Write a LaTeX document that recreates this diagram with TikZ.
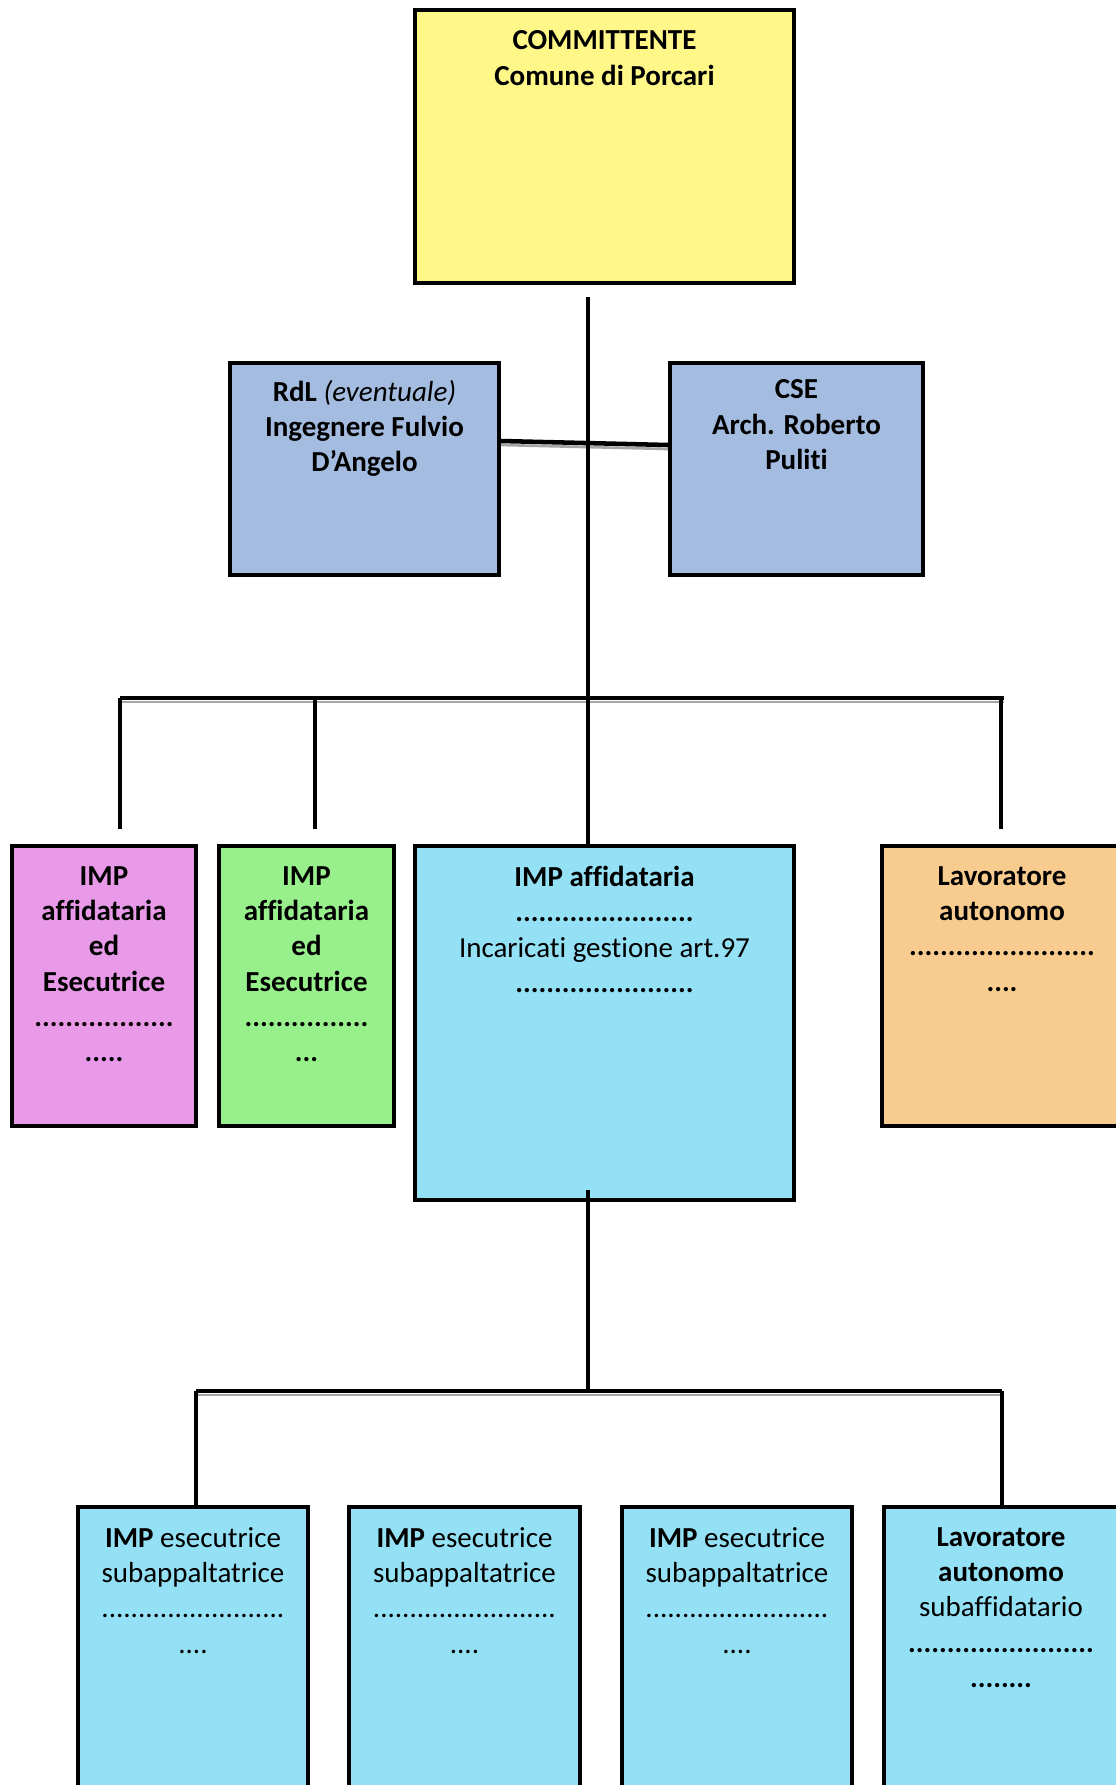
\documentclass[tikz,border=0pt]{standalone}
\usepackage{fontspec}
\setmainfont{Carlito}[Ligatures={NoCommon}]
\usetikzlibrary{calc}
\definecolor{cyel}{RGB}{255,248,136}
\definecolor{cblu}{RGB}{164,188,224}
\definecolor{cpnk}{RGB}{232,154,232}
\definecolor{cgrn}{RGB}{152,240,140}
\definecolor{ccya}{RGB}{148,224,244}
\definecolor{corg}{RGB}{248,203,142}
\newcommand\myfnt{\fontsize{21.75}{26.5}\selectfont}
\tikzset{
  boxnode/.style={draw=black, line width=3pt, rectangle, inner sep=0pt},
  txtnode/.style={align=center, inner sep=0pt, anchor=north, font=\myfnt},
  conn/.style={draw=black, line width=3.4pt},
  shadowline/.style={draw=black!35, line width=2pt},
}
\begin{document}
\begin{tikzpicture}[x=0.75pt,y=-0.75pt]
\useasboundingbox (0,0) rectangle (1116,1785);
\clip (0,0) rectangle (1116,1785);
\fill[white] (0,0) rectangle (1116,1785);

% boxes
\node[boxnode, fill=cyel, minimum width=284.25pt, minimum height=204.75pt] (comm) at (604.5,146.5) {};
\node[boxnode, fill=cblu, minimum width=201.75pt, minimum height=159pt] (rdl) at (364.5,469) {};
\node[boxnode, fill=cblu, minimum width=189.75pt, minimum height=159pt] (cse) at (796.5,469) {};
\node[boxnode, fill=cpnk, minimum width=138pt, minimum height=210pt] (pink) at (104,986) {};
\node[boxnode, fill=cgrn, minimum width=131.25pt, minimum height=210pt] (green) at (306.5,986) {};
\node[boxnode, fill=ccya, minimum width=284.25pt, minimum height=265.5pt] (affid) at (604.5,1023) {};
\node[boxnode, fill=corg, minimum width=180pt, minimum height=210pt] (lav) at (1002,986) {};
\node[boxnode, fill=ccya, minimum width=172.5pt, minimum height=227.25pt] (sub1) at (193,1658.5) {};
\node[boxnode, fill=ccya, minimum width=173.25pt, minimum height=227.25pt] (sub2) at (464.5,1658.5) {};
\node[boxnode, fill=ccya, minimum width=172.5pt, minimum height=227.25pt] (sub3) at (737,1658.5) {};
\node[boxnode, fill=ccya, minimum width=175.5pt, minimum height=227.25pt] (sub4) at (1001,1658.5) {};

% texts
\node[txtnode, font=\myfnt\bfseries] (tcomm) at ([yshift=-17pt]comm.north) {COMMITTENTE\\Comune di Porcari};
\node[txtnode] (trdl) at ([yshift=-14pt]rdl.north) {\textbf{RdL} \textit{(eventuale)}\\\textbf{Ingegnere Fulvio}\\\textbf{D’Angelo}};
\node[txtnode, font=\myfnt\bfseries] (tcse) at ([yshift=-14pt]cse.north) {CSE\\Arch. Roberto\\Puliti};
\node[txtnode, font=\myfnt\bfseries] (tpink) at ([yshift=-16.5pt]pink.north) {IMP\\affidataria\\ed\\Esecutrice\\..................\\.....};
\node[txtnode, font=\myfnt\bfseries] (tgreen) at ([yshift=-16.5pt]green.north) {IMP\\affidataria\\ed\\Esecutrice\\................\\...};
\node[txtnode] (taffid) at ([yshift=-16.5pt]affid.north) {\textbf{IMP affidataria}\\\textbf{.......................}\\Incaricati gestione art.97\\\textbf{.......................}};
\node[txtnode, font=\myfnt\bfseries] (tlav) at ([yshift=-16.5pt]lav.north) {Lavoratore\\autonomo\\........................\\....};
\node[txtnode] (tsub1) at ([yshift=-16.5pt]sub1.north) {\textbf{IMP} esecutrice\\subappaltatrice\\.........................\\....};
\node[txtnode] (tsub2) at ([yshift=-16.5pt]sub2.north) {\textbf{IMP} esecutrice\\subappaltatrice\\.........................\\....};
\node[txtnode] (tsub3) at ([yshift=-16.5pt]sub3.north) {\textbf{IMP} esecutrice\\subappaltatrice\\.........................\\....};
\node[txtnode] (tsub4) at ([yshift=-16.5pt]sub4.north) {\textbf{Lavoratore}\\\textbf{autonomo}\\subaffidatario\\\textbf{........................}\\\textbf{........}};

% connector points
\coordinate (top1) at (588,297);
\coordinate (j1) at (588,698);
\coordinate (barL) at (120,698);
\coordinate (barR) at (1004,698);
\coordinate (dpink) at (120,829);
\coordinate (dgreen) at (315,829);
\coordinate (dlav) at (1001,829);
\coordinate (j2) at (588,1391);
\coordinate (bar2L) at (196,1391);
\coordinate (bar2R) at (1002,1391);
\coordinate (ds1) at (196,1505);
\coordinate (ds4) at (1002,1505);

% shadows
\draw[shadowline] ($(rdl.east)+(0,-24)$) -- ($(cse.west)+(0,-20)$);
\draw[shadowline] ($(barL)+(0,4)$) -- ($(barR)+(0,4)$);
\draw[shadowline] ($(bar2L)+(0,4)$) -- ($(bar2R)+(0,4)$);

% connectors
\draw[conn] (top1) -- (j1);
\draw[conn] ($(rdl.east)+(0,-28)$) -- ($(cse.west)+(0,-24)$);
\draw[conn] (barL) -- (barR);
\draw[conn] (barL |- j1) -- (dpink);
\draw[conn] (dgreen |- j1) -- (dgreen);
\draw[conn] (j1) -- (j1 |- affid.north);
\draw[conn] (dlav |- j1) -- (dlav);
\draw[conn] ([yshift=9pt]affid.south -| j1) -- (j2);
\draw[conn] (bar2L) -- (bar2R);
\draw[conn] (bar2L) -- (ds1);
\draw[conn] (bar2R) -- (ds4);
\end{tikzpicture}
\end{document}
